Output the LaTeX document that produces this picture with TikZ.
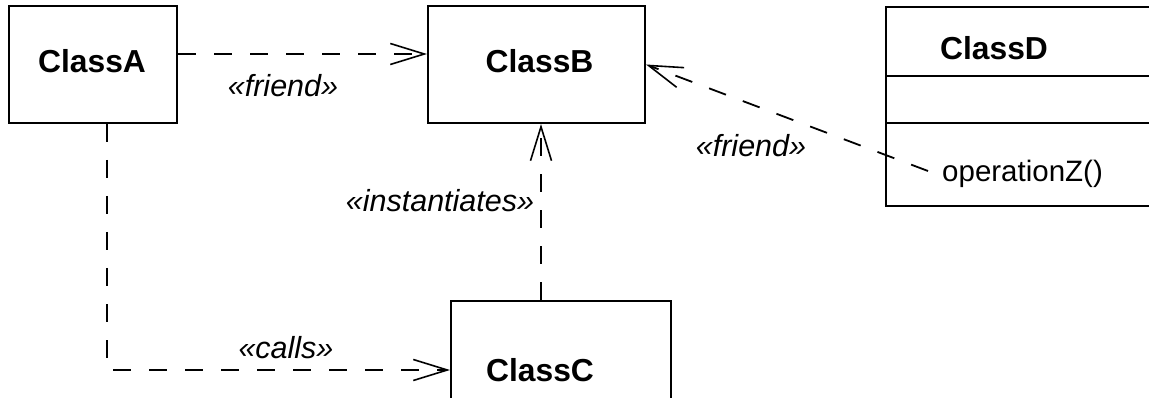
\documentclass[tikz,border=0pt]{standalone}
\usepackage{fontspec}
\setmainfont{Liberation Sans}
\usetikzlibrary{arrows.meta,calc}
\begin{document}
\begin{tikzpicture}[x=1pt,y=-1pt,
  box/.style={draw, line width=2pt, inner sep=0pt},
  boxline/.style={line width=2pt},
  dep/.style={draw, line width=1.8pt, dash pattern=on 18pt off 18pt,
    -{Straight Barb[length=34pt,width=21pt,line width=1.6pt]}},
  cname/.style={font=\fontsize{31.8}{36}\selectfont\bfseries, inner sep=0pt, anchor=base},
  lbl/.style={font=\fontsize{30.5}{36}\selectfont\itshape, inner sep=0pt, anchor=base},
  oper/.style={font=\fontsize{29.5}{36}\selectfont, inner sep=0pt, anchor=base west}]
\useasboundingbox (0,0) rectangle (1149,398);
\fill[white] (0,0) rectangle (1149,398);
% boxes
\node[box, minimum width=168pt, minimum height=117pt] (A) at (93,64.5) {};
\node[box, minimum width=217pt, minimum height=117pt] (B) at (536.5,64.5) {};
\node[box, minimum width=220pt, minimum height=120pt] (C) at (561,361) {};
\node[box, minimum width=290pt, minimum height=199pt] (D) at (1031,106.5) {};
\draw[boxline] (D.west |- 0,76) -- (D.east |- 0,76);
\draw[boxline] (D.west |- 0,123) -- (D.east |- 0,123);
% class names
\node[cname] (tA) at (92,73) {ClassA};
\node[cname] (tB) at (539.5,73) {ClassB};
\node[cname] (tC) at (540,381) {ClassC};
\node[cname] (tD) at (994,60) {ClassD};
\node[oper] (opz) at (942,182) {operationZ()};
% connector helpers
\coordinate (cbx) at (541,0);
\coordinate (acy) at (0,370);
\coordinate (dz) at (928,171);
% connectors
\draw[dep] ([yshift=10.5pt]A.east) -- ([yshift=10.5pt]B.west);
\draw[dep] (C.north -| cbx) -- (B.south -| cbx);
\draw[dep] ([xshift=14pt]A.south) |- (C.west |- acy);
\draw[dep] (dz) -- (B.east);
% labels
\node[lbl] (l1) at (283,97) {«friend»};
\node[lbl] (l2) at (751,157) {«friend»};
\node[lbl] (l3) at (440,212) {«instantiates»};
\node[lbl] (l4) at (286,358) {«calls»};
\end{tikzpicture}
\end{document}
